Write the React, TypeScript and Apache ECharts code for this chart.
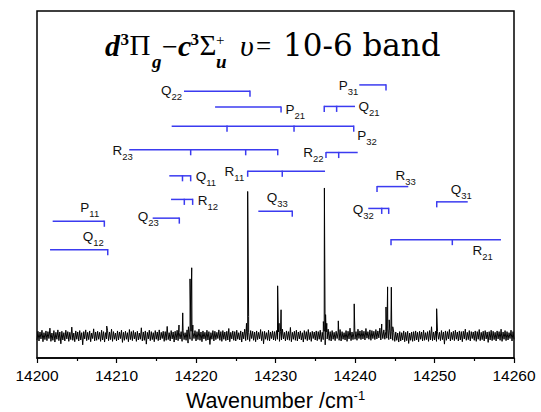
import React, { useEffect, useRef } from "react";
import * as echarts from "echarts";

// ---- axis ----
const X_MIN = 14200;
const X_MAX = 14260;
const X_INTERVAL = 10;
const Y_MIN = 0;
const Y_MAX = 1000;

// ---- spectrum: baseline noise sampled every 0.125 cm-1 from 14200 ----
const NOISE_START = 14200;
const NOISE_STEP = 0.125;
const NOISE = [
  52, 77, 49, 75, 55, 80, 47, 73, 53, 78, 50, 76, 56, 86, 48, 72, 51, 79, 46, 74,
  54, 81, 50, 75, 41, 77, 52, 73, 49, 80, 55, 76, 48, 74, 53, 89, 51, 72, 47, 78,
  54, 75, 49, 79, 52, 73, 38, 76, 55, 81, 50, 74, 53, 78, 47, 72, 56, 84, 49, 75,
  51, 77, 54, 74, 48, 80, 52, 76, 46, 73, 55, 79, 50, 75, 53, 83, 48, 76, 54, 72,
  49, 78, 52, 75, 56, 80, 45, 74, 51, 77, 54, 73, 47, 82, 53, 76, 50, 79, 55, 74,
  48, 77, 52, 72, 54, 87, 49, 75, 51, 78, 40, 74, 55, 80, 50, 76, 53, 73, 47, 79,
  54, 75, 50, 81, 52, 74, 56, 77, 48, 76, 51, 91, 53, 73, 49, 79, 55, 75, 46, 77,
  52, 80, 50, 74, 55, 76, 48, 78, 53, 73, 51, 81, 43, 75, 54, 77, 50, 74, 56, 79,
  49, 76, 53, 83, 51, 75, 47, 78, 55, 74, 50, 80, 52, 76, 39, 73, 54, 79, 49, 77,
  53, 74, 56, 81, 51, 76, 48, 79, 54, 75, 50, 77, 52, 85, 47, 74, 55, 78, 51, 76,
  49, 80, 54, 73, 52, 78, 46, 75, 55, 83, 50, 76, 53, 74, 48, 79, 56, 77, 51, 75,
  47, 78, 53, 74, 55, 82, 50, 76, 41, 77, 54, 73, 51, 80, 49, 75, 56, 78, 52, 76,
  50, 79, 54, 75, 48, 77, 52, 83, 55, 74, 49, 78, 53, 76, 51, 88, 47, 74, 54, 77,
  51, 80, 49, 75, 55, 78, 52, 73, 46, 79, 54, 76, 50, 82, 53, 74, 48, 77, 56, 75,
  52, 78, 50, 76, 54, 80, 47, 74, 53, 77, 38, 75, 55, 83, 51, 76, 49, 79, 54, 74,
  50, 77, 56, 75, 51, 82, 49, 76, 54, 73, 52, 79, 48, 77, 55, 86, 50, 75, 53, 78,
  54, 76, 51, 83, 56, 78, 53, 80, 55, 77, 52, 85, 57, 76, 54, 81, 51, 79, 56, 77,
  53, 82, 55, 78, 58, 86, 52, 79, 56, 81, 54, 77, 57, 84, 53, 80, 55, 76, 51, 74,
  48, 75, 51, 72, 46, 76, 49, 73, 52, 78, 47, 74, 50, 77, 42, 72, 51, 75, 48, 76,
  50, 78, 52, 74, 47, 77, 54, 75, 49, 80, 51, 73, 53, 76, 48, 79, 52, 90, 50, 75,
  52, 77, 48, 76, 54, 74, 50, 79, 53, 75, 40, 78, 51, 76, 55, 82, 49, 74, 53, 77,
  50, 80, 54, 75, 49, 78, 52, 76, 47, 77, 55, 83, 51, 74, 53, 79, 49, 76, 56, 75,
  51, 78, 48, 76, 54, 82, 50, 74, 53, 77, 49, 79, 55, 75, 45, 76, 52, 80, 50, 77,
  53, 74, 49, 78, 55, 76, 51, 83, 48, 75, 54, 79, 50, 76, 52, 73, 56, 80, 49, 76,
  54,
];

// ---- spectral lines: [wavenumber, intensity] ----
const PEAKS: [number, number][] = [
  [14208.77, 92],
  [14217.86, 95],
  [14218.33, 130],
  [14219.05, 90], [14219.25, 228], [14219.38, 150], [14219.46, 260], [14219.6, 95],
  [14226.35, 100], [14226.5, 480], [14226.62, 120],
  [14230.27, 208], [14230.45, 100], [14230.7, 139],
  [14236.02, 105], [14236.15, 490], [14236.3, 125], [14236.45, 100],
  [14237.9, 107],
  [14239.9, 156],
  [14243.36, 98],
  [14243.9, 147], [14244.1, 205], [14244.3, 110], [14244.57, 204], [14244.75, 90],
  [14250.27, 142],
];

// ---- branch assignments ----
const BRANCH_LETTER = ["Q", "P", "Q", "P", "P", "R", "R", "R", "Q", "R", "Q", "Q", "P", "Q", "R", "Q", "Q", "R"];
const BRANCH_INDEX = ["22", "21", "21", "31", "32", "23", "22", "11", "11", "12", "23", "33", "11", "12", "33", "31", "32", "21"];
const BRANCH_LEVEL = [769, 723, 725, 787, 668, 600, 592, 538, 525, 457, 403, 423, 394, 312, 494, 450, 431, 341];
const BRANCH_START = [14218.49, 14222.4, 14236.13, 14240.54, 14216.94, 14211.6, 14236.35, 14226.5, 14216.64, 14216.86, 14214.55, 14227.84, 14201.97, 14201.64, 14242.77, 14250.28, 14241.67, 14244.53];
const BRANCH_END = [14226.79, 14230.7, 14240.0, 14243.9, 14239.84, 14230.28, 14240.34, 14236.23, 14219.33, 14219.58, 14217.9, 14232.11, 14208.47, 14208.9, 14246.7, 14254.18, 14244.24, 14258.36];
const BRANCH_TICKS: number[][] = [
  [14226.79],
  [14230.7],
  [14236.13, 14237.69],
  [14243.9],
  [14223.9, 14232.33, 14239.84],
  [14219.33, 14226.25, 14230.28],
  [14236.35, 14237.95],
  [14226.5, 14230.85],
  [14218.3, 14219.33],
  [14218.53, 14219.58],
  [14217.9],
  [14232.11],
  [14208.47],
  [14208.9],
  [14242.77],
  [14250.28],
  [14243.36, 14244.24],
  [14244.53, 14252.24],
];

// label placement (pixels, relative to the branch line) -- layout only
const LABEL_LAYOUT: { anchor: "start" | "end"; align: "left" | "right"; dx: number; dy: number }[] = [
  { anchor: "start", align: "right", dx: -2, dy: -0.5 },
  { anchor: "end", align: "left", dx: 4.5, dy: 2 },
  { anchor: "end", align: "left", dx: 3.5, dy: 0 },
  { anchor: "start", align: "right", dx: -1, dy: 1 },
  { anchor: "end", align: "left", dx: 3.5, dy: 9 },
  { anchor: "start", align: "right", dx: 3.5, dy: 0.5 },
  { anchor: "start", align: "right", dx: -2.5, dy: 0 },
  { anchor: "start", align: "right", dx: -3.5, dy: 0 },
  { anchor: "end", align: "left", dx: 5, dy: 1 },
  { anchor: "end", align: "left", dx: 5, dy: 1 },
  { anchor: "start", align: "left", dx: -15, dy: -1.5 },
  { anchor: "start", align: "left", dx: 8.5, dy: -13.4 },
  { anchor: "end", align: "left", dx: -24, dy: -13.4 },
  { anchor: "end", align: "left", dx: -25, dy: -13.3 },
  { anchor: "start", align: "left", dx: 18.5, dy: -10.8 },
  { anchor: "start", align: "left", dx: 14, dy: -12.6 },
  { anchor: "start", align: "left", dx: -15.5, dy: 1.5 },
  { anchor: "end", align: "left", dx: -28.5, dy: 10.5 },
];

const BLUE = "#3b3bf0";
const SANS = '"Liberation Sans", Arial, sans-serif';
const SERIF = '"Liberation Serif", "Times New Roman", serif';
const WIDE_SERIF = '"DejaVu Serif", serif';

function buildSpectrum(): [number, number][] {
  const pts: [number, number][] = NOISE.map((v, i) => [NOISE_START + i * NOISE_STEP, v]);
  for (const p of PEAKS) pts.push([p[0], p[1]]);
  pts.sort((a, b) => a[0] - b[0]);
  return pts;
}

function titleText(text: string, x: number, y: number, size: number, family: string, weight = "normal", style = "normal") {
  return {
    type: "text",
    x,
    y,
    silent: true,
    style: {
      text,
      fill: "#000",
      fontSize: size,
      fontFamily: family,
      fontWeight: weight,
      fontStyle: style,
      align: "left",
      textAlign: "left",
      verticalAlign: "middle",
      textVerticalAlign: "middle",
    },
  };
}

export default function App() {
  const ref = useRef<HTMLDivElement>(null);
  useEffect(() => {
    if (!ref.current) return;
    const chart = echarts.init(ref.current, undefined, { renderer: "svg" });
    const labelRich = {
      m: { fontSize: 13.5, lineHeight: 16, fontFamily: SANS, fill: "#111", color: "#111" },
      s: { fontSize: 9.5, lineHeight: 10, fontFamily: SANS, padding: [12, 0, 0, 0], fill: "#111", color: "#111" },
    };
    const option: any = {
      animation: false,
      backgroundColor: "#fff",
      grid: {
        left: 37,
        right: 27,
        top: 11,
        bottom: 54,
        show: true,
        borderColor: "#000",
        borderWidth: 1.5,
        backgroundColor: "transparent",
        containLabel: false,
        outerBoundsMode: "none",
      },
      xAxis: {
        type: "value",
        min: X_MIN,
        max: X_MAX,
        interval: X_INTERVAL,
        name: "{a|Wavenumber /cm}{b|-1}",
        nameLocation: "middle",
        nameGap: 34,
        nameTextStyle: {
          rich: {
            a: { fontSize: 21.5, lineHeight: 18, fontFamily: SANS, color: "#000" },
            b: { fontSize: 13, lineHeight: 8, fontFamily: SANS, color: "#000", padding: [0, 0, 12, 0] },
          },
        },
        axisLine: { show: true, onZero: false, lineStyle: { color: "#000", width: 1.5 } },
        axisTick: { show: true, inside: false, length: 5, lineStyle: { color: "#000", width: 1.2 } },
        minorTick: { show: true, splitNumber: 2, length: 3, lineStyle: { color: "#000", width: 1.2 } },
        axisLabel: {
          margin: 9,
          fontSize: 15.5,
          fontFamily: SANS,
          color: "#000",
          formatter: (v: number) => String(v),
        },
        splitLine: { show: false },
      },
      yAxis: {
        type: "value",
        min: Y_MIN,
        max: Y_MAX,
        axisLine: { show: false },
        axisTick: { show: false },
        axisLabel: { show: false },
        splitLine: { show: false },
      },
      graphic: [
        titleText("d", 105, 45, 30, SERIF, "bold", "italic"),
        titleText("3", 120.5, 39, 17, SERIF, "bold"),
        titleText("Π", 129.5, 45, 29, SERIF),
        titleText("g", 152, 61, 19, SERIF, "bold", "italic"),
        titleText("−", 162, 46, 28, SERIF),
        titleText("c", 178, 45, 30, SERIF, "bold", "italic"),
        titleText("3", 190.5, 39, 17, SERIF, "bold"),
        titleText("Σ", 199.5, 45, 29, SERIF),
        titleText("+", 216, 40, 15, SERIF),
        titleText("u", 216, 61, 19, SERIF, "bold", "italic"),
        titleText("υ", 240, 45, 30, SERIF, "normal", "italic"),
        titleText("=", 256, 46, 27, SERIF),
        titleText("10-6 band", 283, 45, 31, WIDE_SERIF),
      ],
      series: [
        {
          type: "line",
          data: buildSpectrum(),
          showSymbol: false,
          symbol: "none",
          lineStyle: { color: "#000", width: 1 },
          silent: true,
          z: 2,
        },
        {
          type: "custom",
          data: BRANCH_LETTER.map((_, i) => [i]),
          silent: true,
          z: 3,
          renderItem: (_params: any, api: any) => {
            const i = api.value(0) as number;
            const lvl = BRANCH_LEVEL[i];
            const p1 = api.coord([BRANCH_START[i], lvl]);
            const p2 = api.coord([BRANCH_END[i], lvl]);
            const children: any[] = [
              {
                type: "line",
                shape: { x1: p1[0], y1: p1[1], x2: p2[0], y2: p2[1] },
                style: { stroke: BLUE, lineWidth: 1.5 },
              },
            ];
            for (const t of BRANCH_TICKS[i]) {
              const p = api.coord([t, lvl]);
              children.push({
                type: "line",
                shape: { x1: p[0], y1: p[1] - 0.7, x2: p[0], y2: p[1] + 5.5 },
                style: { stroke: BLUE, lineWidth: 1.5 },
              });
            }
            const L = LABEL_LAYOUT[i];
            const ax = L.anchor === "start" ? p1[0] : p2[0];
            children.push({
              type: "text",
              x: ax + L.dx,
              y: p1[1] + L.dy,
              style: {
                text: `{m|${BRANCH_LETTER[i]}}{s|${BRANCH_INDEX[i]}}`,
                rich: labelRich,
                fill: "#111",
                align: L.align,
                textAlign: L.align,
                verticalAlign: "middle",
                textVerticalAlign: "middle",
              },
            });
            return { type: "group", children };
          },
        },
      ],
    };
    chart.setOption(option);
    return () => chart.dispose();
  }, []);
  return <div ref={ref} style={{ position: "absolute", left: 0, top: 0, width: 541, height: 412 }} />;
}
